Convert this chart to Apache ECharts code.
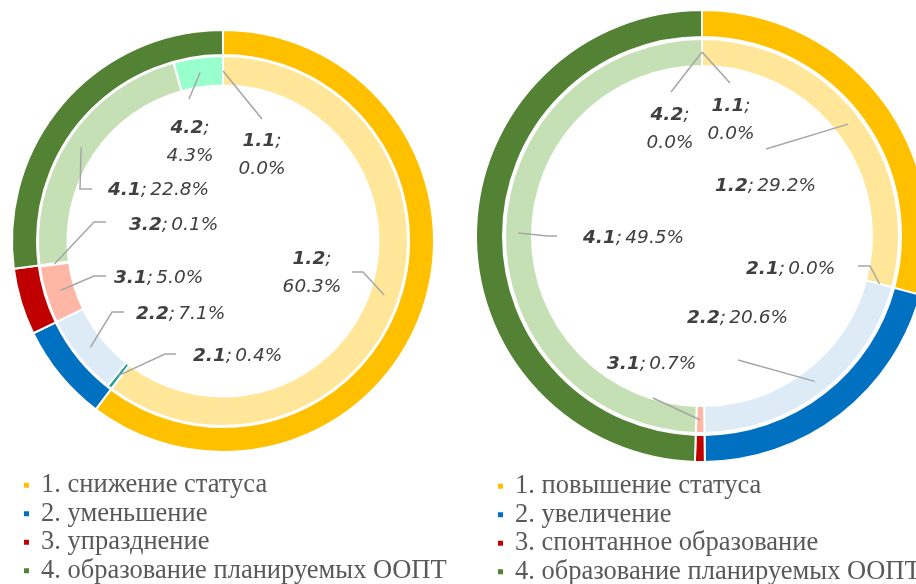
<!DOCTYPE html>
<html>
<head>
<meta charset="utf-8">
<script src="https://cdn.jsdelivr.net/npm/echarts@6/dist/echarts.min.js"></script>
<style>
  html, body { margin: 0; padding: 0; background: #ffffff; }
  #chart { width: 916px; height: 584px; }
</style>
</head>
<body>
<div id="chart"></div>
<script>
// Внешнее кольцо: группы изменений (слева — понижение, справа — повышение)
const groupsDown = ['1. снижение статуса', '2. уменьшение', '3. упразднение', '4. образование планируемых ООПТ'];
const groupValuesDown = [60.3, 7.5, 5.1, 27.1];
const groupsUp = ['1. повышение статуса', '2. увеличение', '3. спонтанное образование', '4. образование планируемых ООПТ'];
const groupValuesUp = [29.2, 20.6, 0.7, 49.5];

// Внутреннее кольцо: подгруппы, %
const subNamesDown = ['1.1', '1.2', '2.1', '2.2', '3.1', '3.2', '4.1', '4.2'];
const subValuesDown = [0.0, 60.3, 0.4, 7.1, 5.0, 0.1, 22.8, 4.3];
const subNamesUp = ['1.1', '1.2', '2.1', '2.2', '3.1', '4.1', '4.2'];
const subValuesUp = [0.0, 29.2, 0.0, 20.6, 0.7, 49.5, 0.0];

// Цвета
const groupColors = ['#FFC000', '#0070C0', '#C00000', '#548235'];
const subColorsDown = ['#FFE699', '#FFE699', '#1F9E9A', '#DDEBF7', '#FFB6A5', '#F4B183', '#C5E0B4', '#99FFCC'];
const subColorsUp = ['#FFE699', '#FFE699', '#DDEBF7', '#DDEBF7', '#FFB6A5', '#C5E0B4', '#C5E0B4'];

// Размещение подписей относительно центра диаграммы: точка подписи и изломы выноски
const spotsDown = {
  '1.1': { at: [39, -86], align: 'center', wrap: true, line: [[39, -122]] },
  '4.2': { at: [-33, -99], align: 'center', wrap: true, line: [[-34, -142]] },
  '4.1': { at: [-115, -51], line: [[-143, -52], [-131, -52]] },
  '3.2': { at: [-94, -16], line: [[-129, -19], [-117, -19]] },
  '3.1': { at: [-109, 37], line: [[-129, 35], [-117, 35]] },
  '2.2': { at: [-87, 73], line: [[-111, 71], [-99, 71]] },
  '2.1': { at: [-30, 115], line: [[-58, 113], [-47, 113]] },
  '1.2': { at: [89, 32], align: 'center', wrap: true, line: [[140, 31], [129, 31]] }
};
const spotsUp = {
  '1.1': { at: [29, -116], align: 'center', wrap: true, line: [[28, -153]] },
  '4.2': { at: [-32, -107], align: 'center', wrap: true, line: [[-31, -144]] },
  '1.2': { at: [13, -50], line: [[64, -87]] },
  '4.1': { at: [-119, 2], line: [[-154, 0], [-145, 0]] },
  '2.1': { at: [44, 33], line: [[168, 30], [156, 30]] },
  '2.2': { at: [-15, 82], line: [[36, 124]] },
  '3.1': { at: [-95, 128], line: [[-49, 162]] }
};

const centerDown = [223, 241];
const centerUp = [702, 236];

const labelFont = 'DejaVu Sans';
const labelColor = '#404040';

function makeFormatter(spots) {
  return function (p) {
    const s = spots[p.name] || {};
    const v = p.value.toFixed(1) + '%';
    return '{b|' + p.name + '}{n|;}' + (s.wrap ? '\n' : ' ') + '{n|' + v + '}';
  };
}

function makeLayout(center, names, values, rMid, spots) {
  const total = values.reduce((a, b) => a + b, 0);
  let acc = 0;
  const mids = values.map(v => { const m = (acc + v / 2) / total * 2 * Math.PI; acc += v; return m; });
  return function (params) {
    const s = spots[names[params.dataIndex]];
    if (!s) return {};
    let anchor;
    const lp = params.labelLinePoints;
    if (lp && lp[0]) {
      const dx = lp[0][0] - center[0], dy = lp[0][1] - center[1];
      const d = Math.sqrt(dx * dx + dy * dy) || 1;
      anchor = [center[0] + dx / d * rMid, center[1] + dy / d * rMid];
    } else {
      const a = mids[params.dataIndex];
      anchor = [center[0] + rMid * Math.sin(a), center[1] - rMid * Math.cos(a)];
    }
    const pts = [anchor].concat(s.line.map(q => [center[0] + q[0], center[1] + q[1]]));
    return {
      x: center[0] + s.at[0],
      y: center[1] + s.at[1],
      align: s.align || 'left',
      verticalAlign: 'middle',
      labelLinePoints: pts
    };
  };
}

const richText = {
  b: { fontFamily: labelFont, fontSize: 18.5, fontStyle: 'italic', fontWeight: 'bold', color: labelColor, lineHeight: 28 },
  n: { fontFamily: labelFont, fontSize: 18.5, fontStyle: 'italic', color: labelColor, lineHeight: 28 }
};

function ringSeries(center, radius, names, values, colors) {
  return {
    type: 'pie',
    z: 2,
    center: center,
    radius: radius,
    startAngle: 90,
    clockwise: true,
    silent: true,
    avoidLabelOverlap: false,
    label: { show: false },
    labelLine: { show: false },
    itemStyle: { borderColor: '#ffffff', borderWidth: 2 },
    data: names.map((n, i) => ({ name: n, value: values[i], itemStyle: { color: colors[i] } }))
  };
}

// Прозрачный дубль внутреннего кольца поверх колец — несёт подписи и выноски
function labelSeries(center, radius, names, values, rMid, spots) {
  return {
    type: 'pie',
    z: 5,
    center: center,
    radius: radius,
    startAngle: 90,
    clockwise: true,
    silent: true,
    avoidLabelOverlap: false,
    minShowLabelAngle: 0,
    itemStyle: { color: 'rgba(0,0,0,0)', borderWidth: 0 },
    label: {
      show: true,
      position: 'outside',
      formatter: makeFormatter(spots),
      rich: richText
    },
    labelLine: {
      show: true,
      length: 5,
      length2: 5,
      lineStyle: { color: '#A6A6A6', width: 1.5 }
    },
    labelLayout: makeLayout(center, names, values, rMid, spots),
    data: names.map((n, i) => ({ name: n, value: values[i] }))
  };
}

const legendBase = {
  orient: 'vertical',
  icon: 'rect',
  itemWidth: 7,
  itemHeight: 7,
  itemGap: 0,
  padding: 0,
  height: 130,
  selectedMode: false,
  textStyle: {
    fontFamily: 'Liberation Serif',
    fontSize: 26.5,
    color: '#595959',
    lineHeight: 28.5,
    padding: [0, 0, 0, 6]
  }
};

const chart = echarts.init(document.getElementById('chart'), null, { renderer: 'canvas' });
chart.setOption({
  animation: false,
  backgroundColor: '#ffffff',
  legend: [
    Object.assign({}, legendBase, { data: groupsDown, left: 22, top: 471 }),
    Object.assign({}, legendBase, { data: groupsUp, left: 496, top: 472 })
  ],
  series: [
    ringSeries(centerDown, [186, 211], groupsDown, groupValuesDown, groupColors),
    ringSeries(centerDown, [155.5, 185], subNamesDown, subValuesDown, subColorsDown),
    labelSeries(centerDown, [155.5, 185], subNamesDown, subValuesDown, 170, spotsDown),
    ringSeries(centerUp, [199, 226], groupsUp, groupValuesUp, groupColors),
    ringSeries(centerUp, [170, 197], subNamesUp, subValuesUp, subColorsUp),
    labelSeries(centerUp, [170, 197], subNamesUp, subValuesUp, 184, spotsUp)
  ]
});
</script>
</body>
</html>
